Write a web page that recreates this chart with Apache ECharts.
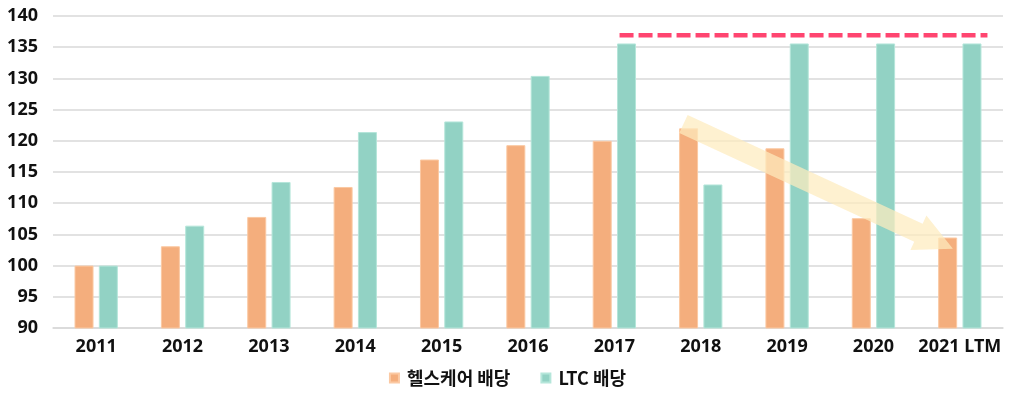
<!DOCTYPE html>
<html><head><meta charset="utf-8">
<script src="https://cdn.jsdelivr.net/npm/echarts@6/dist/echarts.min.js"></script>
<style>html,body{margin:0;padding:0;background:#fff}#c{width:1015px;height:399px}</style>
</head><body><div id="c"></div>
<script>
const categories = ['2011','2012','2013','2014','2015','2016','2017','2018','2019','2020','2021 LTM'];
const healthcare = [100, 103.1, 107.8, 112.6, 117.0, 119.3, 120.0, 122.0, 118.8, 107.6, 104.5];
const ltc = [100, 106.4, 113.4, 121.4, 123.1, 130.4, 135.6, 113.0, 135.6, 135.6, 135.6];
const seriesNames = ['헬스케어 배당', 'LTC 배당'];
const yTicks = {min: 90, max: 140, interval: 5};
// reference dashed line (x in category-index units on hidden axis, y value)
const dashLine = [[6.56, 136.9], [10.82, 136.9]];
// trend arrow: tail and tip (category-index units, value)
const arrowPts = [[7.30, 122.7], [10.42, 102.7]];

const font = '"Noto Sans", "Noto Sans CJK KR", sans-serif';
const kfont = '"Noto Sans CJK KR", sans-serif';
const chart = echarts.init(document.getElementById('c'));
chart.setOption({
  animation: false,
  grid: {left: 53, right: 12, top: 16, bottom: 71},
  legend: {
    bottom: 7, left: 'center', itemWidth: 9, itemHeight: 9, itemGap: 30,
    icon: 'rect',
    data: seriesNames,
    textStyle: {fontFamily: kfont, fontSize: 18, fontWeight: 'bold', color: '#111', padding: [0, 0, 0, 3]}
  },
  xAxis: [{
    type: 'category', data: categories,
    axisLine: {lineStyle: {color: '#d9d9d9', width: 1.5}},
    axisTick: {show: false},
    axisLabel: {interval: 0, fontFamily: font, fontSize: 18, fontWeight: 'bold', color: '#111', margin: 10}
  }, {
    type: 'value', min: 0, max: 11, show: false
  }],
  yAxis: {
    type: 'value', min: yTicks.min, max: yTicks.max, interval: yTicks.interval,
    axisLine: {show: false}, axisTick: {show: false},
    splitLine: {lineStyle: {color: '#d9d9d9', width: 1.5}},
    axisLabel: {fontFamily: font, fontSize: 18, fontWeight: 'bold', color: '#111', margin: 15}
  },
  series: [{
    name: seriesNames[0], type: 'bar', data: healthcare, barWidth: 19, barGap: '28%',
    itemStyle: {color: '#f4ae7d', borderColor: '#fbc9a3', borderWidth: 1}
  }, {
    name: seriesNames[1], type: 'bar', data: ltc, barWidth: 19,
    itemStyle: {color: '#92d2c4', borderColor: '#b5e6da', borderWidth: 1}
  }, {
    type: 'line', xAxisIndex: 1, data: dashLine, symbol: 'none', silent: true,
    lineStyle: {color: '#ff4570', width: 4.5, type: [14, 5]}, z: 5
  }, {
    type: 'custom', xAxisIndex: 1, silent: true, z: 10,
    data: [arrowPts[0].concat(arrowPts[1])],
    renderItem: function (params, api) {
      const a = api.coord([api.value(0), api.value(1)]);
      const b = api.coord([api.value(2), api.value(3)]);
      const dx = b[0]-a[0], dy = b[1]-a[1];
      const L = Math.sqrt(dx*dx+dy*dy);
      const ux = dx/L, uy = dy/L, px = -uy, py = ux;
      const bw = 10, hw = 19, hl = 38;
      const hb = [b[0]-ux*hl, b[1]-uy*hl];
      const pts = [
        [a[0]+px*bw, a[1]+py*bw],
        [hb[0]+px*bw, hb[1]+py*bw],
        [hb[0]+px*hw, hb[1]+py*hw],
        b,
        [hb[0]-px*hw, hb[1]-py*hw],
        [hb[0]-px*bw, hb[1]-py*bw],
        [a[0]-px*bw, a[1]-py*bw]
      ];
      return {type: 'polygon', shape: {points: pts}, style: {fill: 'rgba(253,236,190,0.72)'}};
    }
  }]
});
</script></body></html>
